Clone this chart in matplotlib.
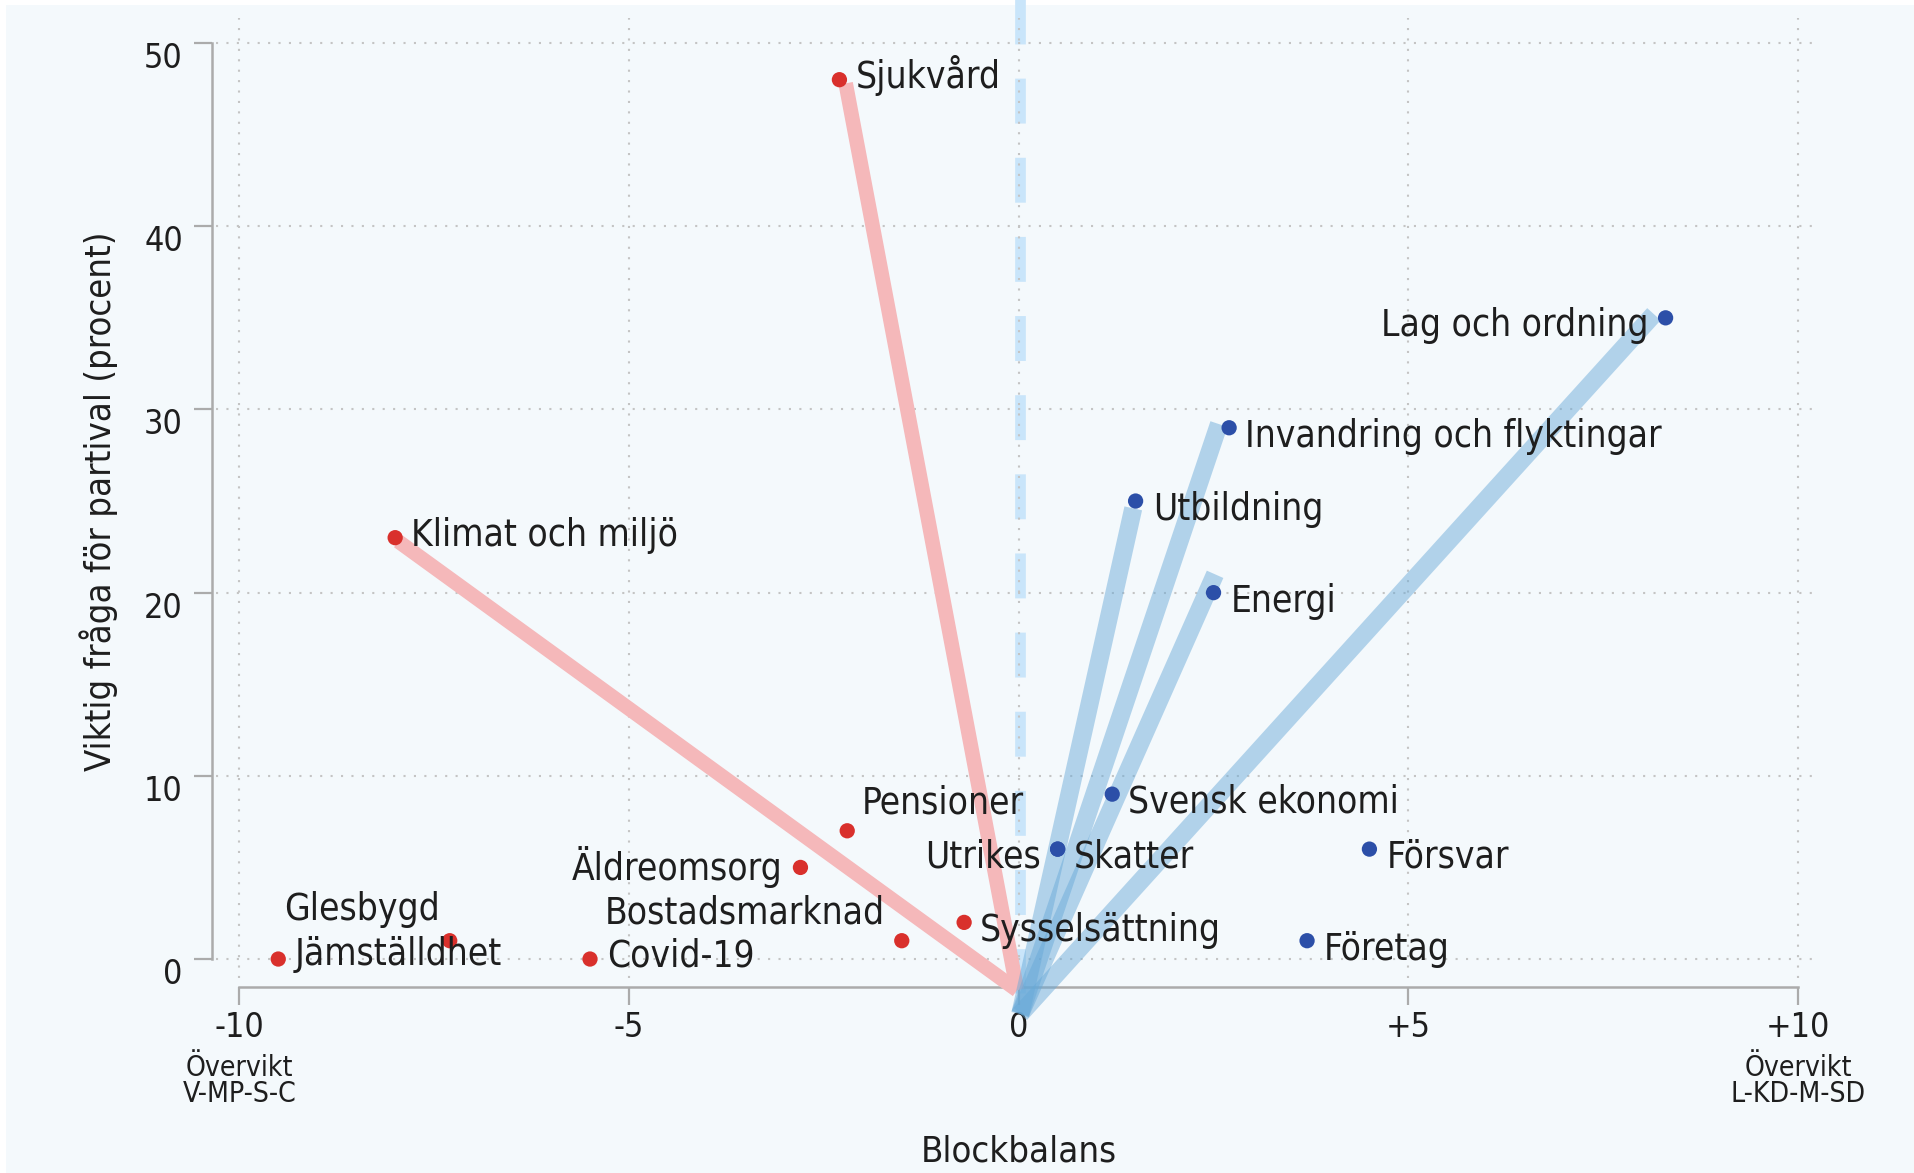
import matplotlib
matplotlib.use('Agg')
import matplotlib.pyplot as plt
from matplotlib import font_manager as fm
from matplotlib.patches import Rectangle
from matplotlib.transforms import ScaledTranslation

# --- data -----------------------------------------------------------------
red_names = ['Sjukvård', 'Klimat och miljö', 'Pensioner', 'Äldreomsorg', 'Bostadsmarknad',
             'Sysselsättning', 'Covid-19', 'Jämställdhet', 'Glesbygd']
red_x = [-2.3, -8.0, -2.2, -2.8, -1.5, -0.7, -5.5, -9.5, -7.3]
red_y = [48, 23, 7, 5, 1, 2, 0, 0, 1]

blue_names = ['Lag och ordning', 'Invandring och flyktingar', 'Utbildning', 'Energi',
              'Svensk ekonomi', 'Utrikes', 'Skatter', 'Försvar', 'Företag']
blue_x = [8.3, 2.7, 1.5, 2.5, 1.2, 0.5, 0.5, 4.5, 3.7]
blue_y = [35, 29, 25, 20, 9, 6, 6, 6, 1]

# thick "spokes" from the bottom of the zero line
red_line_origin = (-0.02, -1.7)
red_line_x = [-2.22, -7.96]
red_line_y = [47.8, 22.8]
blue_line_origin = (0.02, -3.0)
blue_line_x = [8.15, 2.57, 1.47, 2.52]
blue_line_y = [35.2, 29.2, 24.6, 21.0]

x_ticks = [-10, -5, 0, 5, 10]
x_ticklabels = ['-10', '-5', '0', '+5', '+10']
y_ticks = [0, 10, 20, 30, 40, 50]

# label placement: (dx pt, dy pt, ha)
R, L = 11.5, -12.3
label_pos = {
    'Sjukvård': (R, 3.0, 'left'), 'Klimat och miljö': (R, 1.5, 'left'),
    'Pensioner': (10.5, 20.0, 'left'), 'Äldreomsorg': (-13.2, 0.5, 'right'),
    'Bostadsmarknad': (L, 20.0, 'right'), 'Sysselsättning': (R, -6.0, 'left'),
    'Covid-19': (12.3, 2.4, 'left'), 'Jämställdhet': (R, 3.0, 'left'),
    'Glesbygd': (-7.0, 22.5, 'right'),
    'Lag och ordning': (L, -5.5, 'right'), 'Invandring och flyktingar': (R, -6.5, 'left'),
    'Utbildning': (12.3, -6.0, 'left'), 'Energi': (12.3, -6.5, 'left'),
    'Svensk ekonomi': (R, -6.0, 'left'), 'Utrikes': (L, -5.5, 'right'),
    'Skatter': (R, -5.5, 'left'), 'Försvar': (12.3, -5.5, 'left'),
    'Företag': (12.3, -6.0, 'left'),
}

# --- font: prefer a narrow sans ---------------------------------------------
def find_font():
    regular = [f for f in fm.fontManager.ttflist
               if f.style == 'normal' and f.weight in (400, 'normal', 'regular')]
    for f in regular:
        if f.name == 'Liberation Sans Narrow':
            return f
    for fam in ['Noto Sans', 'Open Sans', 'Roboto', 'Lato', 'DejaVu Sans']:
        for st in ['condensed', 'semi-condensed']:
            for f in regular:
                if f.name == fam and str(f.stretch) == st:
                    return f
    return None

entry = find_font()
if entry is not None:
    plt.rcParams['font.family'] = [entry.name, 'DejaVu Sans']
    plt.rcParams['font.stretch'] = entry.stretch

txt = '#1e1e1e'
axis_gray = '#ABABAB'

fig = plt.figure(figsize=(19.15, 11.73), dpi=100)

# scale type so the widest label comes close to the original width
probe = fig.text(0, 0, 'Invandring och flyktingar', fontsize=32)
w = probe.get_window_extent(fig.canvas.get_renderer()).width
probe.remove()
k = min(1.0, (403 / w) ** 0.85)
fs_label, fs_tick, fs_sub, fs_title = 32 * k, 29.5 * k, 24.5 * k, 31.5 * k

fig.patches.append(Rectangle((6 / 1915, 0), 1, 1 - 5 / 1173, transform=fig.transFigure,
                             facecolor='#F4F9FC', edgecolor='none', zorder=-10))
ax = fig.add_axes([0, 0, 1, 1])
ax.set_facecolor('none')
ax.set_xlim(-13.07, 11.50)
ax.set_ylim(-11.68, 52.35)

for s in ['top', 'right']:
    ax.spines[s].set_visible(False)
ax.spines['left'].set_position(('data', -10.35))
ax.spines['left'].set_bounds(0, 50)
ax.spines['bottom'].set_position(('data', -1.53))
ax.spines['bottom'].set_bounds(-10, 10)
for s in ['left', 'bottom']:
    ax.spines[s].set_color(axis_gray)
    ax.spines[s].set_linewidth(1.8)

ax.set_xticks(x_ticks, x_ticklabels)
ax.set_yticks(y_ticks)
ax.tick_params(direction='out', length=13, width=1.6, color=axis_gray,
               labelsize=fs_tick, labelcolor=txt)
ax.tick_params(axis='y', pad=8)
ax.tick_params(axis='x', pad=4)
shift = ScaledTranslation(0, -12 / 100, fig.dpi_scale_trans)
for lab in ax.get_yticklabels():
    lab.set_transform(lab.get_transform() + shift)

# dashed zero line
ax.plot([0.015, 0.015], [52.57, -1.86], color='#C9E5FA', lw=7.7, dashes=(4.2, 3.2),
        dash_capstyle='butt', zorder=1)

# dotted grid
for yv in y_ticks:
    ax.plot([-10.3, 10.28], [yv, yv], color='#C4C4C4', lw=1.5, ls=(0, (1, 4)), zorder=2)
for xv in x_ticks:
    ax.plot([xv, xv], [-1.05, 51.35], color='#C4C4C4', lw=1.5, ls=(0, (1, 4)), zorder=2)

# spokes
for ex, ey in zip(red_line_x, red_line_y):
    ax.plot([red_line_origin[0], ex], [red_line_origin[1], ey], color='#F5B8BA',
            lw=10.5, solid_capstyle='butt', zorder=3)
for ex, ey in zip(blue_line_x, blue_line_y):
    ax.plot([blue_line_origin[0], ex], [blue_line_origin[1], ey], color='#68A9D8',
            alpha=0.48, lw=13, solid_capstyle='butt', zorder=4)

# dots
ax.scatter(red_x, red_y, s=11 ** 2, color='#D9302C', edgecolors='none', zorder=5)
ax.scatter(blue_x, blue_y, s=11 ** 2, color='#2C4FA8', edgecolors='none', zorder=5)

for names, xs, ys in [(red_names, red_x, red_y), (blue_names, blue_x, blue_y)]:
    for n, xv, yv in zip(names, xs, ys):
        dx, dy, ha = label_pos[n]
        ax.annotate(n, (xv, yv), xytext=(dx, dy), textcoords='offset points',
                    ha=ha, va='center', fontsize=fs_label, color=txt, zorder=6)

# axis texts
ax.text(-10, -6.66, 'Övervikt\nV-MP-S-C', ha='center', va='center', fontsize=fs_sub,
        linespacing=0.95, color=txt)
ax.text(10, -6.66, 'Övervikt\nL-KD-M-SD', ha='center', va='center', fontsize=fs_sub,
        linespacing=0.95, color=txt)
ax.text(0, -10.53, 'Blockbalans', ha='center', va='center', fontsize=fs_title, color=txt)
ax.text(-11.81, 25.0, 'Viktig fråga för partival (procent)', rotation=90,
        ha='center', va='center', fontsize=fs_title, color=txt)

fig.savefig('out.png', dpi=100)
